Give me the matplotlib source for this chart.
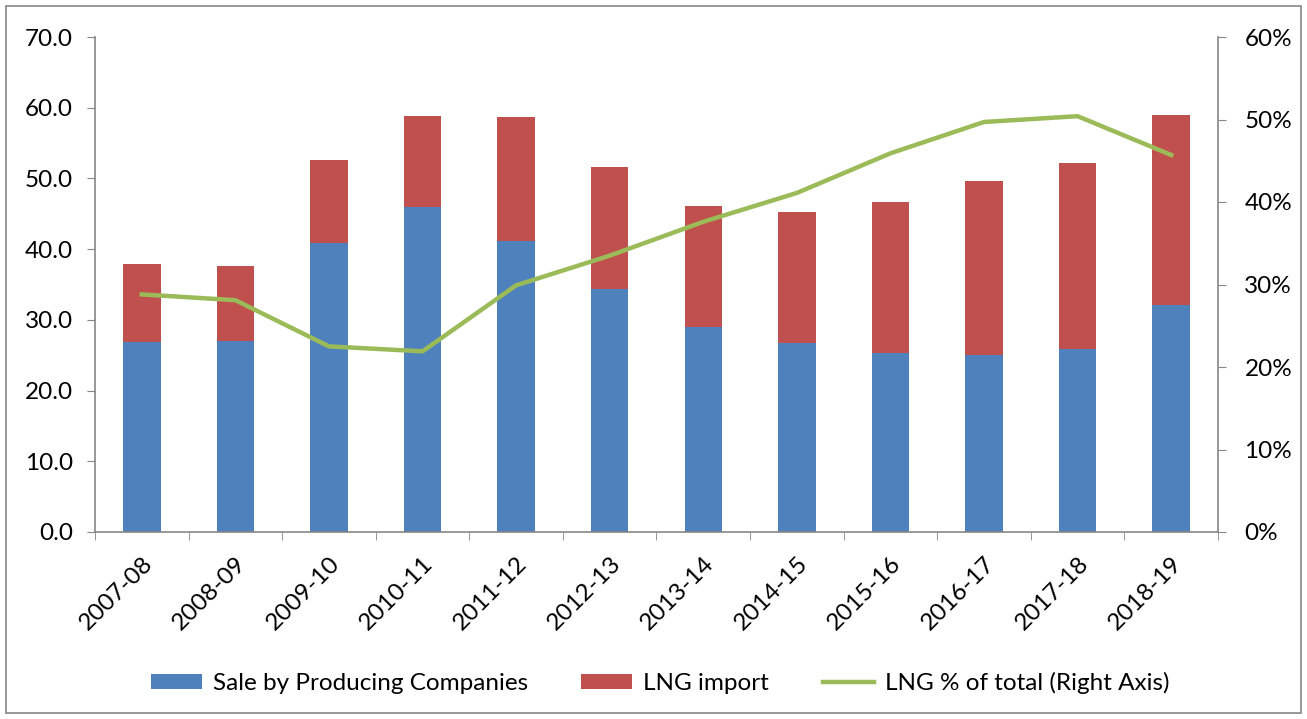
import matplotlib
matplotlib.use("Agg")
import matplotlib.pyplot as plt
from matplotlib.patches import Rectangle
import numpy as np

plt.rcParams['font.family'] = ['Lato', 'DejaVu Sans']

years = ["2007-08", "2008-09", "2009-10", "2010-11", "2011-12", "2012-13",
         "2013-14", "2014-15", "2015-16", "2016-17", "2017-18", "2018-19"]
sale_producing = [26.9, 27.0, 40.9, 46.0, 41.2, 34.4, 29.0, 26.7, 25.3, 25.0, 25.9, 32.1]
totals = [37.9, 37.6, 52.6, 58.8, 58.7, 51.6, 46.1, 45.3, 46.7, 49.6, 52.2, 59.0]
lng_import = [round(t - s, 1) for t, s in zip(totals, sale_producing)]
lng_pct = [28.8, 28.1, 22.5, 21.9, 29.9, 33.5, 37.6, 41.1, 45.9, 49.7, 50.4, 45.7]

BLUE = "#4F81BD"
RED = "#C0504D"
GREEN = "#9BBB59"
GREY = "#868686"
FS = 17.5

W, H = 1307, 719
fig = plt.figure(figsize=(W / 100, H / 100), dpi=100)
fig.patches.append(Rectangle((6 / W, 6 / H), (W - 12) / W, (H - 12) / H,
                             transform=fig.transFigure, fill=False,
                             edgecolor=GREY, linewidth=1.2))

ax = fig.add_axes([95 / W, 1 - 532 / H, (1218 - 95) / W, (532 - 37) / H])
x = np.arange(len(years))
ax.bar(x, sale_producing, width=0.4, color=BLUE, label="Sale by Producing Companies", zorder=2)
ax.bar(x, lng_import, width=0.4, bottom=sale_producing, color=RED, label="LNG import", zorder=2)
ax.set_xlim(-0.5, len(years) - 0.5)
ax.set_ylim(0, 70)
ax.set_yticks(np.arange(0, 71, 10))
ax.set_yticklabels([f"{v:.1f}" for v in np.arange(0, 71, 10)], fontsize=FS)
ax.set_xticks(x)
ax.set_xticklabels(years, rotation=45, ha="right", rotation_mode="anchor", fontsize=FS)
ax.tick_params(axis="x", length=0, pad=15)
ax.set_xticks(np.arange(-0.5, len(years)), minor=True)
ax.tick_params(axis="x", which="minor", length=6, color=GREY, direction="out")
ax.tick_params(axis="y", length=6, color=GREY, direction="out", pad=10)
for s in ["top", "right"]:
    ax.spines[s].set_visible(False)
for s in ["left", "bottom"]:
    ax.spines[s].set_color(GREY)
    ax.spines[s].set_linewidth(1.2)

ax2 = ax.twinx()
ax2.plot(x, lng_pct, color=GREEN, linewidth=3.2, label="LNG % of total (Right Axis)", zorder=3)
ax2.set_ylim(0, 60)
ax2.set_yticks(np.arange(0, 61, 10))
ax2.set_yticklabels([f"{v}%" for v in range(0, 61, 10)], fontsize=FS)
ax2.tick_params(axis="y", length=6, color=GREY, direction="out", pad=13)
for s in ["top", "left", "bottom"]:
    ax2.spines[s].set_visible(False)
ax2.spines["right"].set_color(GREY)
ax2.spines["right"].set_linewidth(1.2)

h1, l1 = ax.get_legend_handles_labels()
h2, l2 = ax2.get_legend_handles_labels()
fig.legend(h1 + h2, l1 + l2, loc="center", bbox_to_anchor=(660 / W, 1 - 683 / H),
           ncol=3, frameon=False, fontsize=FS, handlelength=2.1, handleheight=0.55,
           columnspacing=2.2, handletextpad=0.45)

fig.savefig("out.png", dpi=100)
